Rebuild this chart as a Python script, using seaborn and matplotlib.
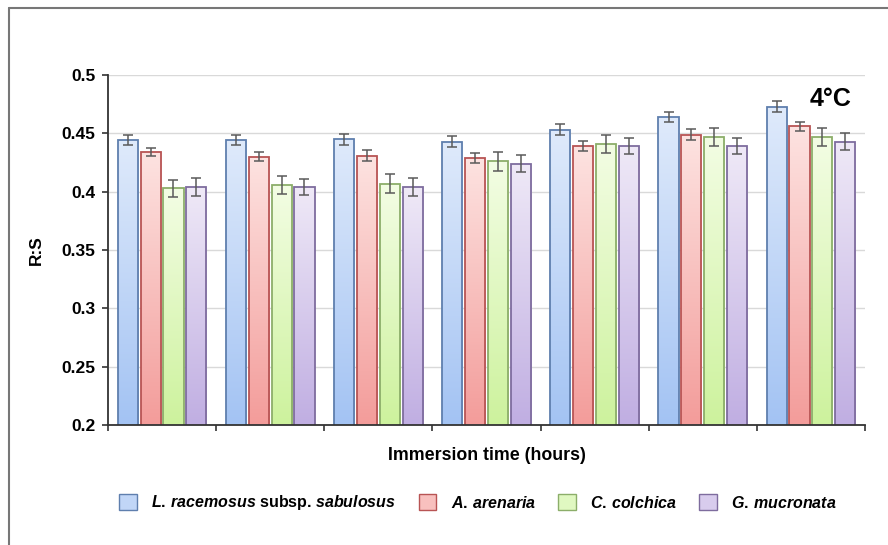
import numpy as np
import pandas as pd
import seaborn as sns
import matplotlib.pyplot as plt
from matplotlib.colors import LinearSegmentedColormap, to_rgb
from matplotlib.patches import Patch
from matplotlib.lines import Line2D

groups = ["1", "2", "3", "4", "5", "6", "7"]
species = ["L. racemosus subsp. sabulosus", "A. arenaria", "C. colchica", "G. mucronata"]
labels = [r"$\mathit{L.\,racemosus}$ subsp. $\mathit{sabulosus}$",
          r"$\mathit{A.\,arenaria}$", r"$\mathit{C.\,colchica}$", r"$\mathit{G.\,mucronata}$"]

l_rac = [0.444, 0.444, 0.445, 0.443, 0.453, 0.464, 0.473]
a_are = [0.434, 0.430, 0.431, 0.429, 0.439, 0.449, 0.456]
c_col = [0.403, 0.406, 0.407, 0.426, 0.441, 0.447, 0.447]
g_muc = [0.404, 0.404, 0.404, 0.424, 0.439, 0.439, 0.443]

l_rac_err = [0.0043, 0.0043, 0.0046, 0.0046, 0.0046, 0.0047, 0.0046]
a_are_err = [0.0037, 0.0040, 0.0044, 0.0043, 0.0043, 0.0043, 0.0039]
c_col_err = [0.0074, 0.0076, 0.0079, 0.0079, 0.0079, 0.0079, 0.0077]
g_muc_err = [0.0077, 0.0071, 0.0073, 0.0071, 0.0071, 0.0071, 0.0070]

values = [l_rac, a_are, c_col, g_muc]
errs = [l_rac_err, a_are_err, c_col_err, g_muc_err]

# gradient colours (top, bottom, edge)
tops = ["#dfeafb", "#fde3e1", "#f3fde4", "#efe9f7"]
bottoms = ["#a3c3f3", "#f39c9a", "#cdf29d", "#c0aee2"]
edges = ["#5f7fae", "#b85454", "#8cae6a", "#7e6c9e"]

df = pd.DataFrame({
    "time": np.tile(groups, len(species)),
    "species": np.repeat(species, len(groups)),
    "rs": np.concatenate(values),
})

sns.set_style("white")
plt.rcParams["font.family"] = ["Liberation Sans", "DejaVu Sans"]
plt.rcParams["font.weight"] = "bold"
plt.rcParams["text.color"] = "black"
plt.rcParams["axes.labelcolor"] = "black"
plt.rcParams["ytick.color"] = "black"
plt.rcParams["mathtext.fontset"] = "custom"
plt.rcParams["mathtext.it"] = "Liberation Sans:italic:bold"
plt.rcParams["mathtext.rm"] = "Liberation Sans:bold"

fig = plt.figure(figsize=(8.88, 5.45), dpi=100)
ax = fig.add_axes([108 / 888, 1 - 425 / 545, 757 / 888, 350 / 545])

sns.barplot(data=df, x="time", y="rs", hue="species", hue_order=species,
            palette=bottoms, width=0.845, gap=0.12, errorbar=None,
            legend=False, ax=ax, zorder=2)

ymin, ymax = 0.2, 0.5
grad = np.linspace(0, 1, 256).reshape(-1, 1)
bar_conts = list(ax.containers)
for i, cont in enumerate(bar_conts):
    cmap = LinearSegmentedColormap.from_list("g%d" % i, [bottoms[i], tops[i]])
    xs, hs = [], []
    for bar in cont:
        x0 = bar.get_x()
        w = bar.get_width()
        h = bar.get_height()
        bar.set_facecolor("none")
        bar.set_edgecolor(edges[i])
        bar.set_linewidth(1.3)
        bar.set_zorder(3)
        im = ax.imshow(grad, cmap=cmap, origin="lower", aspect="auto",
                       extent=(x0, x0 + w, ymin, h), zorder=2)
        im.set_clip_path(bar)
        xs.append(x0 + w / 2)
        hs.append(h)
    ax.errorbar(xs, hs, yerr=errs[i], fmt="none", ecolor="#5a5a5a",
                elinewidth=1.1, capsize=3.5, capthick=1.1, zorder=4)

ax.set_xlim(-0.5, len(groups) - 0.5)
ax.set_ylim(ymin, ymax)
ax.set_yticks(np.arange(0.2, 0.501, 0.05))
ax.set_yticklabels(["0.2", "0.25", "0.3", "0.35", "0.4", "0.45", "0.5"],
                   fontsize=12.5, fontweight="bold")
ax.set_xticks(np.arange(-0.5, len(groups), 1.0))
ax.set_xticklabels([])
ax.tick_params(axis="both", direction="out", length=4, width=1.2, color="#333333",
               bottom=True, left=True, pad=5)
ax.yaxis.grid(True, color="#d9d9d9", linewidth=1, zorder=0)
ax.xaxis.grid(False)
ax.set_axisbelow(True)
for s in ["top", "right"]:
    ax.spines[s].set_visible(False)
for s in ["left", "bottom"]:
    ax.spines[s].set_color("#333333")
    ax.spines[s].set_linewidth(1.3)
    ax.spines[s].set_zorder(5)

ax.set_xlabel("Immersion time (hours)", fontsize=12.8, fontweight="bold", labelpad=7)
ax.set_ylabel("R:S", fontsize=12.5, fontweight="bold", labelpad=13)

ax.text(0.955, 0.93, "4°C", transform=ax.transAxes, fontsize=18,
        fontweight="bold", ha="center", va="center")

handles = [Patch(facecolor=(np.array(to_rgb(tops[i])) + np.array(to_rgb(bottoms[i]))) / 2,
                 edgecolor=edges[i], linewidth=1.0) for i in range(4)]
fig.legend(handles, labels, loc="center", bbox_to_anchor=(478 / 888, 1 - 503 / 545),
           ncol=4, frameon=False, prop={"size": 11.5, "weight": "bold"},
           handlelength=1.1, handleheight=1.1, handletextpad=0.9, columnspacing=1.4)

# frame lines of the original figure panel
fig.add_artist(Line2D([9 / 888, 1], [1 - 8 / 545, 1 - 8 / 545],
                      transform=fig.transFigure, color="#777777", linewidth=1.5))
fig.add_artist(Line2D([9 / 888, 9 / 888], [0, 1 - 8 / 545],
                      transform=fig.transFigure, color="#777777", linewidth=1.5))

fig.savefig("out.png", dpi=100)
